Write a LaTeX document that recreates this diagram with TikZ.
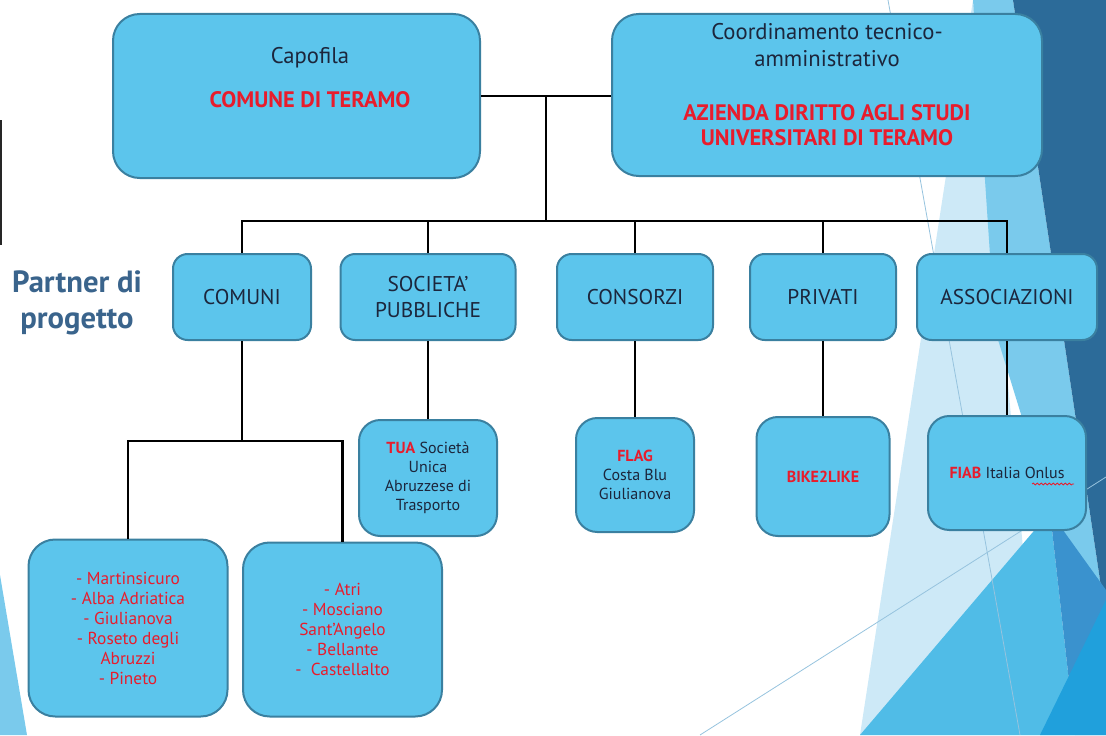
\documentclass[tikz,border=0pt]{standalone}
\usepackage{fontspec}
\setmainfont{PT Sans}
\usetikzlibrary{decorations.pathmorphing}

\definecolor{boxfill}{RGB}{92,197,236}
\definecolor{boxline}{RGB}{58,128,160}
\definecolor{txtdark}{RGB}{28,38,60}
\definecolor{txtred}{RGB}{232,28,44}
\definecolor{partnerblue}{RGB}{58,100,140}
\definecolor{bgpale}{RGB}{205,233,247}
\definecolor{bglight}{RGB}{122,202,236}
\definecolor{bgdark}{RGB}{44,107,153}
\definecolor{bgmid}{RGB}{80,188,231}
\definecolor{bgmed}{RGB}{58,146,206}
\definecolor{bgbright}{RGB}{32,160,220}
\definecolor{bgthin}{RGB}{150,195,222}

\tikzset{
  box/.style={draw=boxline, fill=boxfill, line width=1.5pt, inner sep=0pt, align=center, text=txtdark},
  sz/.style 2 args={minimum width=#1*0.75pt, minimum height=#2*0.75pt},
  toplbl/.style={inner sep=0pt, align=center, text=txtdark, font=\fontsize{17}{20}\selectfont},
  redlbl/.style={inner sep=0pt, align=center, text=txtred, font=\fontsize{16.8}{19}\selectfont\bfseries},
  midbox/.style={box, rounded corners=11pt, font=\fontsize{16}{19.5}\selectfont},
  smallbox/.style={box, rounded corners=16pt, font=\fontsize{12}{14.2}\selectfont},
  citybox/.style={box, rounded corners=20pt, text=txtred, font=\fontsize{13}{15}\selectfont},
  link/.style={line width=2pt, black},
  thinline/.style={draw=bgthin, line width=0.6pt}
}
\newcommand{\rb}[1]{\textcolor{txtred}{\textbf{#1}}}

\begin{document}
\begin{tikzpicture}[x=0.75pt,y=0.75pt,yscale=-1,xscale=1]
\useasboundingbox (0,0) rectangle (1106,735);

% background
\fill[bgpale] (973,0) -- (1040,735) -- (860,735) -- cycle;
\fill[bglight] (973,0) -- (1013,0) -- (1106,620) -- (1106,690) -- (995,330) -- cycle;
\fill[bgdark] (1013,0) -- (1106,0) -- (1106,620) -- cycle;
\fill[bgmid] (860,735) -- (1050,512) -- (1075,735) -- cycle;
\fill[bgmed] (1050,512) -- (1106,590) -- (1106,735) -- (1075,735) -- cycle;
\fill[bgbright] (1106,600) -- (1106,735) -- (1040,735) -- cycle;
\fill[bglight] (0,575) -- (0,735) -- (27,735) -- cycle;
\fill[black!85] (0,120) rectangle (2,245);
\draw[thinline] (888,0) -- (1020,735);
\draw[thinline] (700,735) -- (1106,477);

% top boxes
\node[box, rounded corners=20pt, sz={367}{164}] (capo) at (296.5,96) {};
\node[box, rounded corners=20pt, sz={430}{162}] (coord) at (827,95) {};
\node[toplbl] (capoT) at (310,58) {Capofila};
\node[redlbl] (capoR) at (310,100) {COMUNE DI TERAMO};
\node[toplbl] (coordT) at (827,45) {Coordinamento tecnico-\\amministrativo};
\node[redlbl] (coordR) at (827,125) {AZIENDA DIRITTO AGLI STUDI\\UNIVERSITARI DI TERAMO};

% partner
\node[inner sep=0pt, align=center, text=partnerblue, font=\fontsize{23}{27.5}\selectfont\bfseries] (partner) at (77,303) {Partner di\\progetto};

% second row
\node[midbox, sz={138}{86}] (comuni) at (242,297) {COMUNI};
\node[midbox, sz={175}{86}] (soc) at (428,297) {SOCIETA’\\PUBBLICHE};
\node[midbox, sz={156}{86}] (cons) at (635,297) {CONSORZI};
\node[midbox, sz={146}{86}] (priv) at (823,297) {PRIVATI};
\node[midbox, sz={180}{86}] (assoc) at (1007,297) {ASSOCIAZIONI};

% third row
\node[smallbox, sz={138}{116}] (tua) at (428,478) {\rb{TUA} Società\\Unica\\Abruzzese di\\Trasporto};
\node[smallbox, sz={118}{114}] (flag) at (635,475) {\rb{FLAG}\\Costa Blu\\Giulianova};
\node[smallbox, sz={133}{119}] (bike) at (823,476.5) {\rb{BIKE2LIKE}};
\node[smallbox, sz={158}{114}] (fiab) at (1007,473) {\rb{FIAB} Italia Onlus};
\draw[txtred, line width=0.6pt, decorate, decoration={snake, amplitude=0.7pt, segment length=3pt}] (1032,484) -- (1074,484);

% comuni
\node[citybox, sz={199}{177}] (cityA) at (128,628) {- Martinsicuro\\- Alba Adriatica\\- Giulianova\\- Roseto degli\\Abruzzi\\- Pineto};
\node[citybox, sz={199}{174}] (cityB) at (342.5,629.5) {- Atri\\- Mosciano\\Sant’Angelo\\- Bellante\\-\ \ Castellalto};

% connectors
\coordinate (hub) at (546,96);
\coordinate (bus) at (546,221);
\coordinate (split) at (242,441);
\draw[link] (capo.east) -- (coord.west |- capo.east);
\draw[link] (hub) -- (bus);
\draw[link] (bus) -| (comuni.north);
\draw[link] (bus) -| (soc.north);
\draw[link] (bus) -| (cons.north);
\draw[link] (bus) -| (priv.north);
\draw[link] (bus) -| (assoc.north);
\draw[link] (soc.south) -- (tua.north);
\draw[link] (cons.south) -- (flag.north);
\draw[link] (priv.south) -- (bike.north);
\draw[link] (assoc.south) -- (fiab.north);
\draw[link] (comuni.south) -- (split);
\draw[link] (split) -| (cityA.north);
\draw[link] (split) -| (cityB.north);

\end{tikzpicture}
\end{document}
